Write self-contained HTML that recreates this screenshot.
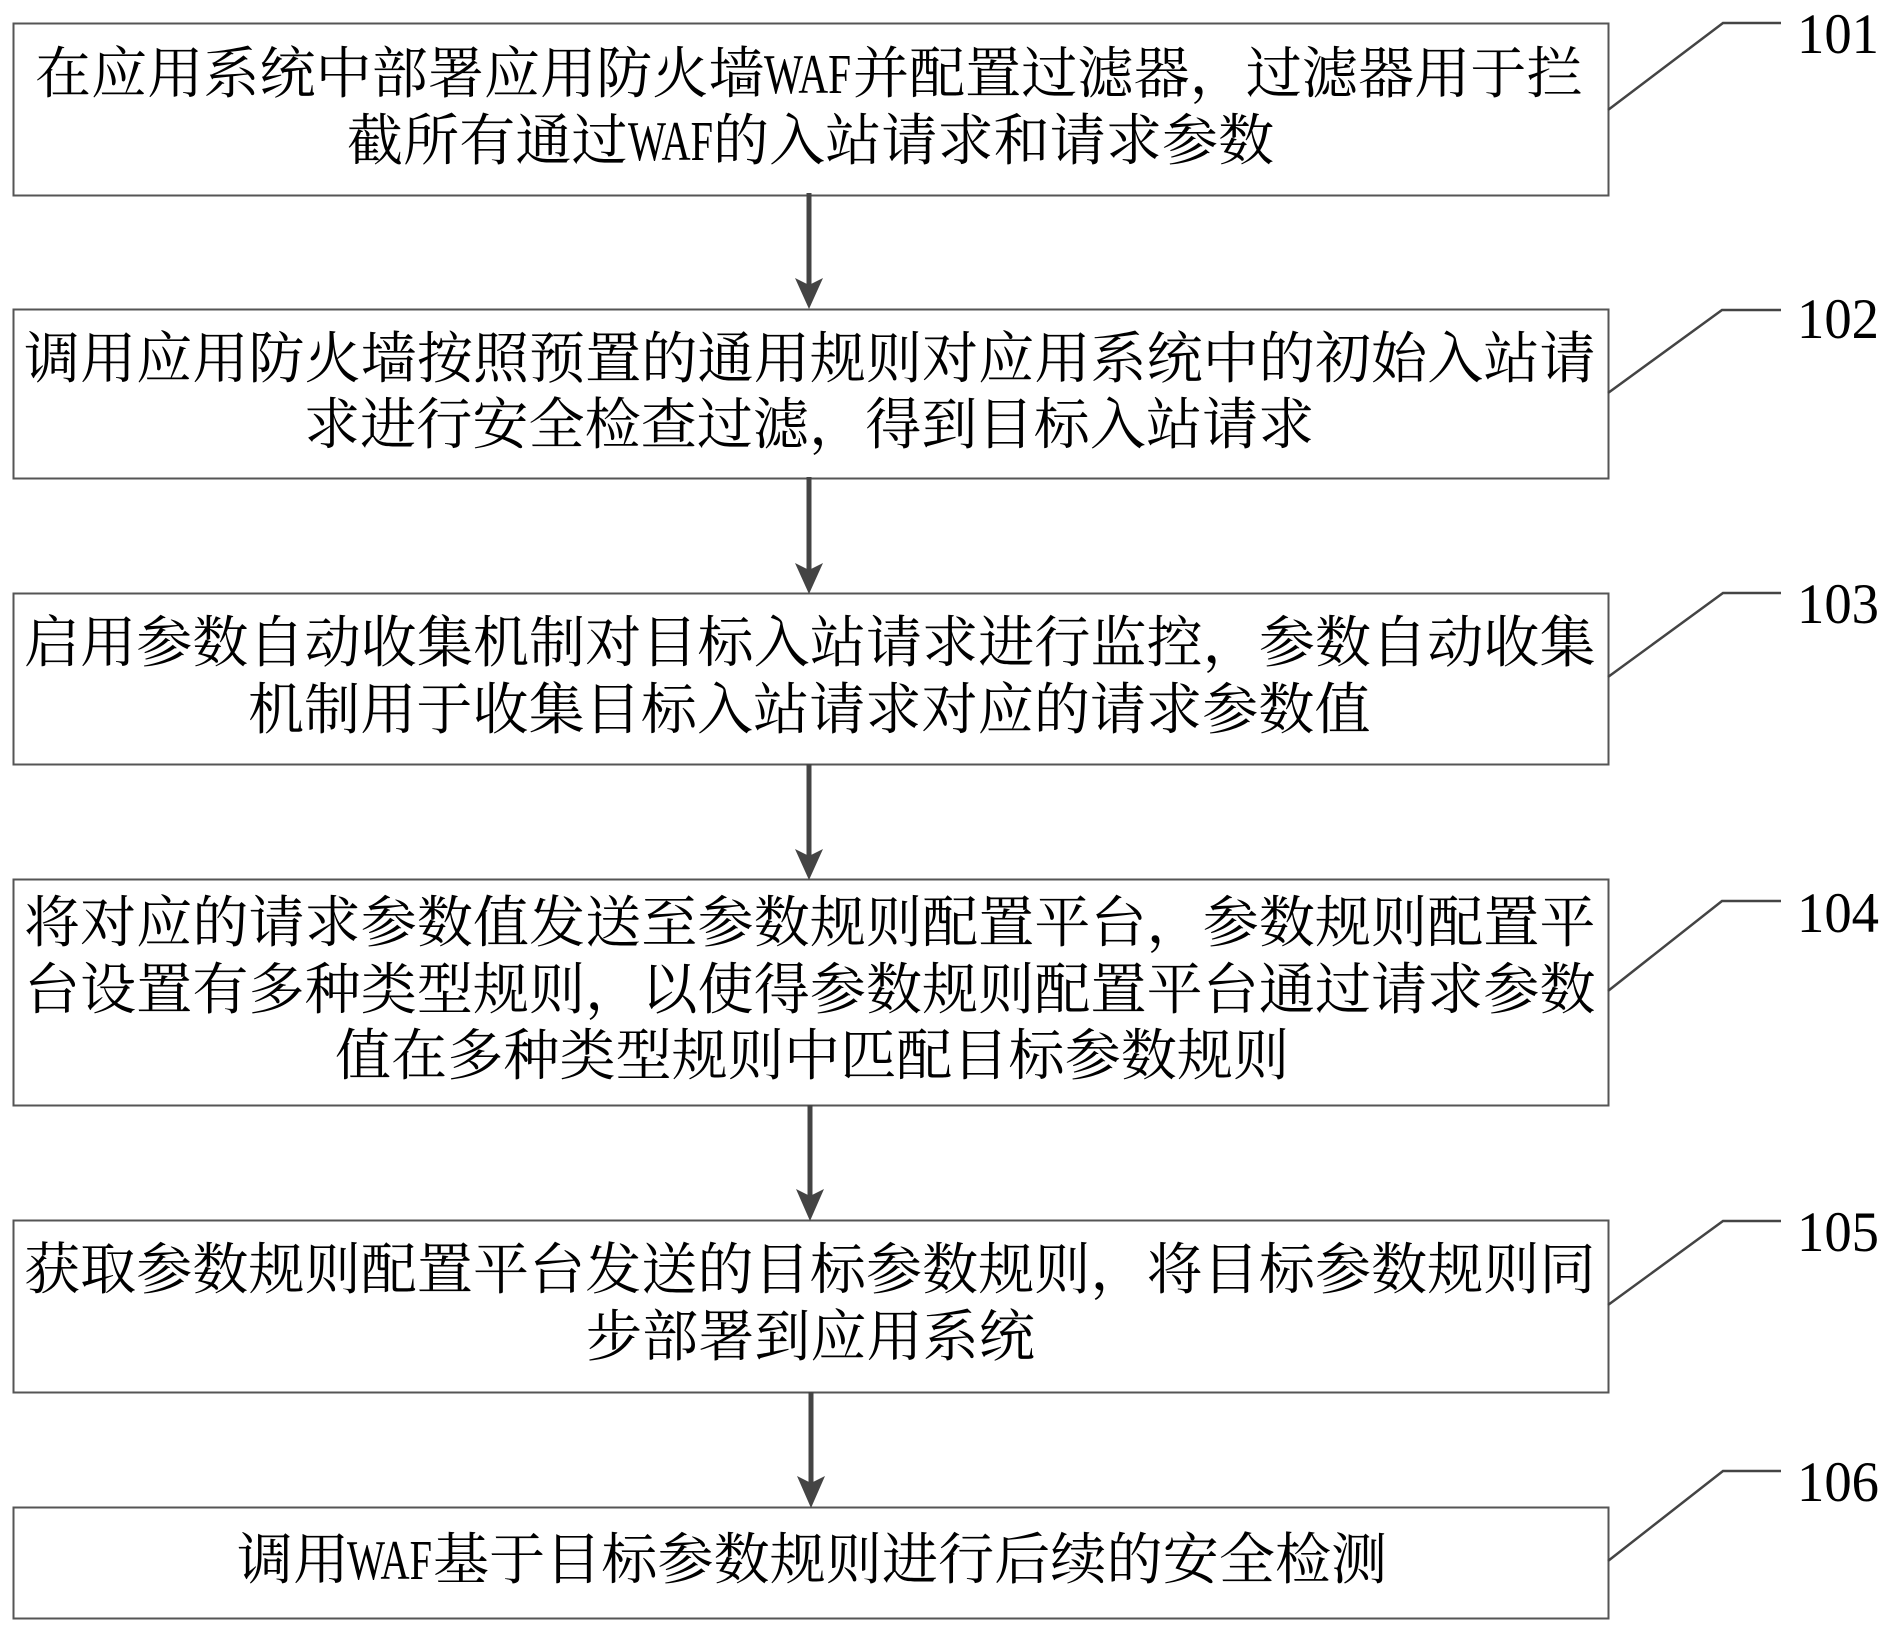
<!DOCTYPE html>
<html lang="zh">
<head>
<meta charset="utf-8">
<title>流程图</title>
<style>
html,body{margin:0;padding:0;background:#fff;width:1891px;height:1633px;overflow:hidden}
svg{display:block}
.t{font-family:"Liberation Serif","Noto Serif CJK SC",serif;font-size:56px;fill:#000;font-kerning:none;letter-spacing:.13px}
.w{font-family:"Liberation Serif",serif;font-size:56px;fill:#000}
.n{font-family:"Liberation Serif",serif;font-size:57px;fill:#000}
.b{fill:none;stroke:#555;stroke-width:2}
.l{fill:none;stroke:#444;stroke-width:2.5}
.a{stroke:#444;stroke-width:5}
.h{fill:#444}
</style>
</head>
<body>
<svg xmlns="http://www.w3.org/2000/svg" width="1891" height="1633" viewBox="0 0 1891 1633">
<rect width="1891" height="1633" fill="#fff"/>
<rect class="b" x="13.5" y="23.5" width="1595" height="172"/>
<rect class="b" x="13.5" y="309.5" width="1595" height="169"/>
<rect class="b" x="13.5" y="593.5" width="1595" height="171"/>
<rect class="b" x="13.5" y="879.5" width="1595" height="226"/>
<rect class="b" x="13.5" y="1220.5" width="1595" height="172"/>
<rect class="b" x="13.5" y="1507.5" width="1595" height="111"/>

<line class="a" x1="809" y1="193" x2="809" y2="285"/><path class="h" d="M795 278 L809 285 L823 278 L809 309 Z"/>
<line class="a" x1="809" y1="477" x2="809" y2="570"/><path class="h" d="M795 563 L809 570 L823 563 L809 594 Z"/>
<line class="a" x1="809" y1="764" x2="809" y2="856"/><path class="h" d="M795 849 L809 856 L823 849 L809 880 Z"/>
<line class="a" x1="810" y1="1105" x2="810" y2="1196"/><path class="h" d="M796 1189 L810 1196 L824 1189 L810 1221 Z"/>
<line class="a" x1="811" y1="1392" x2="811" y2="1483"/><path class="h" d="M797 1476 L811 1483 L825 1476 L811 1508 Z"/>

<polyline class="l" points="1608,110 1723,23 1781,23"/>
<polyline class="l" points="1608,393 1722,310 1781,310"/>
<polyline class="l" points="1608,677 1723,593 1781,593"/>
<polyline class="l" points="1608,991 1722,901 1781,901"/>
<polyline class="l" points="1608,1305 1723,1221 1781,1221"/>
<polyline class="l" points="1608,1561 1723,1471 1781,1471"/>

<text class="n" x="1797" y="53" textLength="82" lengthAdjust="spacingAndGlyphs">101</text>
<text class="n" x="1797" y="338" textLength="82" lengthAdjust="spacingAndGlyphs">102</text>
<text class="n" x="1797" y="623" textLength="82" lengthAdjust="spacingAndGlyphs">103</text>
<text class="n" x="1797" y="932" textLength="82" lengthAdjust="spacingAndGlyphs">104</text>
<text class="n" x="1797" y="1251" textLength="82" lengthAdjust="spacingAndGlyphs">105</text>
<text class="n" x="1797" y="1501" textLength="82" lengthAdjust="spacingAndGlyphs">106</text>

<text class="t" x="35" y="93">在应用系统中部署应用防火墙</text>
<text class="w" x="764" y="93" textLength="87" lengthAdjust="spacingAndGlyphs">WAF</text>
<text class="t" x="853" y="93">并配置过滤器，过滤器用于拦</text>
<text class="t" x="347" y="160">截所有通过</text>
<text class="w" x="628" y="160" textLength="85" lengthAdjust="spacingAndGlyphs">WAF</text>
<text class="t" x="713" y="160">的入站请求和请求参数</text>

<text class="t" x="24" y="378">调用应用防火墙按照预置的通用规则对应用系统中的初始入站请</text>
<text class="t" x="304" y="444">求进行安全检查过滤，得到目标入站请求</text>

<text class="t" x="24" y="662">启用参数自动收集机制对目标入站请求进行监控，参数自动收集</text>
<text class="t" x="248" y="729">机制用于收集目标入站请求对应的请求参数值</text>

<text class="t" x="24" y="942">将对应的请求参数值发送至参数规则配置平台，参数规则配置平</text>
<text class="t" x="24" y="1009">台设置有多种类型规则，以使得参数规则配置平台通过请求参数</text>
<text class="t" x="335" y="1075">值在多种类型规则中匹配目标参数规则</text>

<text class="t" x="24" y="1289">获取参数规则配置平台发送的目标参数规则，将目标参数规则同</text>
<text class="t" x="586" y="1356">步部署到应用系统</text>

<text class="t" x="237" y="1579">调用</text>
<text class="w" x="347" y="1579" textLength="85" lengthAdjust="spacingAndGlyphs">WAF</text>
<text class="t" x="433" y="1579">基于目标参数规则进行后续的安全检测</text>
</svg>
</body>
</html>
